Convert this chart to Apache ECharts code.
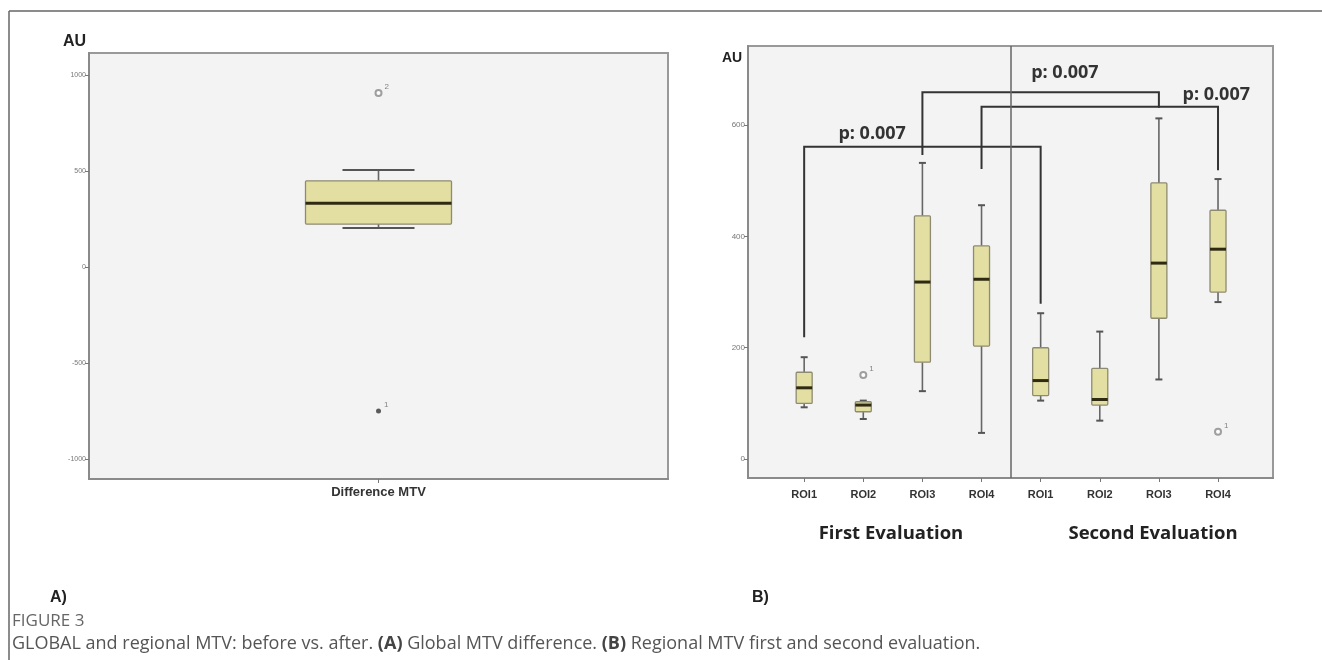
<!DOCTYPE html>
<html>
<head>
<meta charset="utf-8">
<script src="https://cdn.jsdelivr.net/npm/echarts@6/dist/echarts.min.js"></script>
<style>
  html, body { margin: 0; padding: 0; background: #fff; }
  #main { width: 1322px; height: 660px; }
</style>
</head>
<body>
<div id="main"></div>
<script>
// panel A: global MTV difference  [min, q1, median, q3, max]
var mtvBox = [203, 224, 332, 449, 505];
var mtvOutliers = [[0, 906, '2']];
var mtvExtremes = [[0, -750, '1']];
var mtvTicks = [-1000, -500, 0, 500, 1000];

// panel B: regional MTV, first then second evaluation
var roiCats = ['ROI1', 'ROI2', 'ROI3', 'ROI4', 'ROI1', 'ROI2', 'ROI3', 'ROI4'];
var roiBoxes = [
  [93, 100, 128, 156, 183],
  [72, 85, 97, 103, 105],
  [122, 174, 318, 437, 532],
  [47, 203, 323, 383, 456],
  [105, 114, 141, 200, 262],
  [69, 97, 107, 163, 229],
  [143, 253, 352, 496, 612],
  [282, 300, 377, 447, 503]
];
var roiOutliers = [[1, 151, '1'], [7, 49, '1']];
var roiTicks = [0, 200, 400, 600];
var evalGroups = ['First Evaluation', 'Second Evaluation'];

// significance brackets: [x1, y1 end, x2, y2 end, y top]
var brackets = [
  [0, 219, 4, 279, 561],
  [2, 546, 6, 631, 659],
  [3, 521, 7, 519, 633]
];
// p labels: [x, y, text]
var pLabels = [
  [1.15, 584, 'p: 0.007'],
  [4.41, 693, 'p: 0.007'],
  [6.97, 654, 'p: 0.007']
];

function boxRender(boxW, capW, medW, whiskerColor) {
  return function (params, api) {
    var x = api.value(0);
    var pMin = api.coord([x, api.value(1)]);
    var pQ1 = api.coord([x, api.value(2)]);
    var pMed = api.coord([x, api.value(3)]);
    var pQ3 = api.coord([x, api.value(4)]);
    var pMax = api.coord([x, api.value(5)]);
    var cx = pMed[0], h = boxW / 2, c = capW / 2;
    var ln = { stroke: whiskerColor, lineWidth: 1.6 };
    return {
      type: 'group',
      children: [
        { type: 'line', shape: { x1: cx, y1: pMax[1], x2: cx, y2: pQ3[1] }, style: ln },
        { type: 'line', shape: { x1: cx, y1: pQ1[1], x2: cx, y2: pMin[1] }, style: ln },
        { type: 'line', shape: { x1: cx - c, y1: pMax[1], x2: cx + c, y2: pMax[1] }, style: { stroke: '#555', lineWidth: 2 } },
        { type: 'line', shape: { x1: cx - c, y1: pMin[1], x2: cx + c, y2: pMin[1] }, style: { stroke: '#555', lineWidth: 2 } },
        { type: 'rect', shape: { x: cx - h, y: pQ3[1], width: boxW, height: pQ1[1] - pQ3[1], r: 1 },
          style: { fill: '#e3dea2', stroke: '#8d8b72', lineWidth: 1.3 } },
        { type: 'line', shape: { x1: cx - h, y1: pMed[1], x2: cx + h, y2: pMed[1] },
          style: { stroke: '#2f2b12', lineWidth: medW } }
      ]
    };
  };
}

var chart = echarts.init(document.getElementById('main'));

var axisLineStyle = { show: true, onZero: false, lineStyle: { color: '#8a8a8a', width: 2 } };
var yCommon = {
  type: 'value',
  axisLine: axisLineStyle,
  axisTick: { show: true, length: 4, lineStyle: { color: '#777' } },
  splitLine: { show: false },
  axisLabel: { fontSize: 7, color: '#777', margin: 3, fontFamily: 'Liberation Sans',
    formatter: function (v) { return String(v); } }
};

chart.setOption({
  animation: false,
  grid: [
    { left: 89, top: 53, width: 579, height: 426, show: true, backgroundColor: '#f3f3f3', borderColor: '#999', borderWidth: 2 },
    { left: 748, top: 46, width: 525, height: 432, show: true, backgroundColor: '#f3f3f3', borderColor: '#999', borderWidth: 2 }
  ],
  xAxis: [
    {
      type: 'value', gridIndex: 0, min: -1, max: 1,
      axisLine: axisLineStyle,
      axisTick: { show: true, length: 4, customValues: [0], lineStyle: { color: '#777' } },
      splitLine: { show: false },
      axisLabel: {
        customValues: [0], margin: 7,
        formatter: function () { return 'Difference MTV'; },
        fontSize: 13, fontWeight: 'bold', color: '#333', fontFamily: 'Liberation Sans'
      }
    },
    {
      type: 'value', gridIndex: 1, min: -0.95, max: 7.93,
      axisLine: axisLineStyle,
      axisTick: { show: true, length: 4, customValues: [0, 1, 2, 3, 4, 5, 6, 7], lineStyle: { color: '#777' } },
      splitLine: { show: false },
      axisLabel: {
        customValues: [0, 1, 2, 3, 4, 5, 6, 7], margin: 11,
        formatter: function (v) { return roiCats[Math.round(v)]; },
        fontSize: 11, fontWeight: 'bold', color: '#333', fontFamily: 'Liberation Sans'
      }
    }
  ],
  yAxis: [
    Object.assign({}, yCommon, { gridIndex: 0, min: -1104, max: 1115,
      axisTick: Object.assign({}, yCommon.axisTick, { customValues: mtvTicks }),
      axisLabel: Object.assign({}, yCommon.axisLabel, { customValues: mtvTicks }) }),
    Object.assign({}, yCommon, { gridIndex: 1, min: -34, max: 742,
      axisTick: Object.assign({}, yCommon.axisTick, { customValues: roiTicks }),
      axisLabel: Object.assign({}, yCommon.axisLabel, { customValues: roiTicks, fontSize: 8 }) })
  ],
  series: [
    {
      type: 'custom', xAxisIndex: 0, yAxisIndex: 0,
      renderItem: boxRender(146, 72, 3, '#666'),
      encode: { x: 0, y: [1, 2, 3, 4, 5] },
      data: [[0].concat(mtvBox)]
    },
    {
      type: 'scatter', xAxisIndex: 0, yAxisIndex: 0,
      symbol: 'emptyCircle', symbolSize: 6,
      itemStyle: { color: '#888', borderWidth: 1 },
      label: { show: true, position: 'right', offset: [-3, -6], fontSize: 8, color: '#666',
        formatter: function (p) { return p.data[2]; } },
      data: mtvOutliers
    },
    {
      type: 'scatter', xAxisIndex: 0, yAxisIndex: 0,
      symbol: 'circle', symbolSize: 5,
      itemStyle: { color: '#333' },
      label: { show: true, position: 'right', offset: [-2, -6], fontSize: 8, color: '#666',
        formatter: function (p) { return p.data[2]; } },
      data: mtvExtremes
    },
    {
      type: 'custom', xAxisIndex: 1, yAxisIndex: 1,
      renderItem: boxRender(16, 7, 3, '#666'),
      encode: { x: 0, y: [1, 2, 3, 4, 5] },
      data: roiBoxes.map(function (b, i) { return [i].concat(b); })
    },
    {
      type: 'scatter', xAxisIndex: 1, yAxisIndex: 1,
      symbol: 'emptyCircle', symbolSize: 6,
      itemStyle: { color: '#888', borderWidth: 1 },
      label: { show: true, position: 'right', offset: [-3, -6], fontSize: 8, color: '#666',
        formatter: function (p) { return p.data[2]; } },
      data: roiOutliers
    },
    {
      type: 'custom', xAxisIndex: 1, yAxisIndex: 1,
      renderItem: function (params, api) {
        var a = api.coord([api.value(0), api.value(1)]);
        var b = api.coord([api.value(0), api.value(4)]);
        var c = api.coord([api.value(2), api.value(4)]);
        var d = api.coord([api.value(2), api.value(3)]);
        return { type: 'polyline', shape: { points: [a, b, c, d] },
          style: { fill: 'none', stroke: '#333', lineWidth: 2 } };
      },
      encode: { x: [0, 2], y: [1, 3, 4] },
      data: brackets,
      markLine: {
        silent: true, symbol: 'none',
        label: { show: false },
        lineStyle: { color: '#666', width: 1.5, type: 'solid' },
        data: [{ xAxis: 3.5 }]
      }
    },
    {
      type: 'custom', xAxisIndex: 1, yAxisIndex: 1,
      renderItem: function (params, api) {
        var p = api.coord([api.value(0), api.value(1)]);
        return { type: 'text', x: p[0], y: p[1],
          style: { text: pLabels[params.dataIndex][2], fill: '#333',
            font: 'bold 18px "Open Sans"', align: 'center', verticalAlign: 'middle' } };
      },
      encode: { x: 0, y: 1 },
      data: pLabels.map(function (r) { return [r[0], r[1]]; })
    }
  ],
  graphic: [
    { type: 'line', shape: { x1: 9, y1: 11, x2: 1322, y2: 11 }, style: { stroke: '#666', lineWidth: 1.5 } },
    { type: 'line', shape: { x1: 9, y1: 11, x2: 9, y2: 660 }, style: { stroke: '#666', lineWidth: 1.5 } },
    { type: 'text', left: 63, top: 34, style: { text: 'AU', font: 'bold 16px "Liberation Sans"', fill: '#222' } },
    { type: 'text', left: 722, top: 51, style: { text: 'AU', font: 'bold 14px "Liberation Sans"', fill: '#222' } },
    { type: 'text', x: 891, y: 534, style: { text: evalGroups[0], font: 'bold 18.5px "Open Sans"', fill: '#222', align: 'center', verticalAlign: 'middle' } },
    { type: 'text', x: 1153, y: 534, style: { text: evalGroups[1], font: 'bold 18.5px "Open Sans"', fill: '#222', align: 'center', verticalAlign: 'middle' } },
    { type: 'text', left: 50, top: 590, style: { text: 'A)', font: 'bold 16px "Liberation Sans"', fill: '#222' } },
    { type: 'text', left: 752, top: 590, style: { text: 'B)', font: 'bold 16px "Liberation Sans"', fill: '#222' } },
    { type: 'text', left: 12, top: 613, style: { text: 'FIGURE 3', font: '17px "Open Sans"', fill: '#666' } },
    {
      type: 'text', left: 12, top: 635,
      style: {
        text: 'GLOBAL and regional MTV: before vs. after. {b|(A)} Global MTV difference. {b|(B)} Regional MTV first and second evaluation.',
        font: '18px "Open Sans"', fill: '#555',
        rich: { b: { fontWeight: 'bold', fontSize: 18, fontFamily: 'Open Sans', fill: '#444', color: '#444' } }
      }
    }
  ]
});
</script>
</body>
</html>
